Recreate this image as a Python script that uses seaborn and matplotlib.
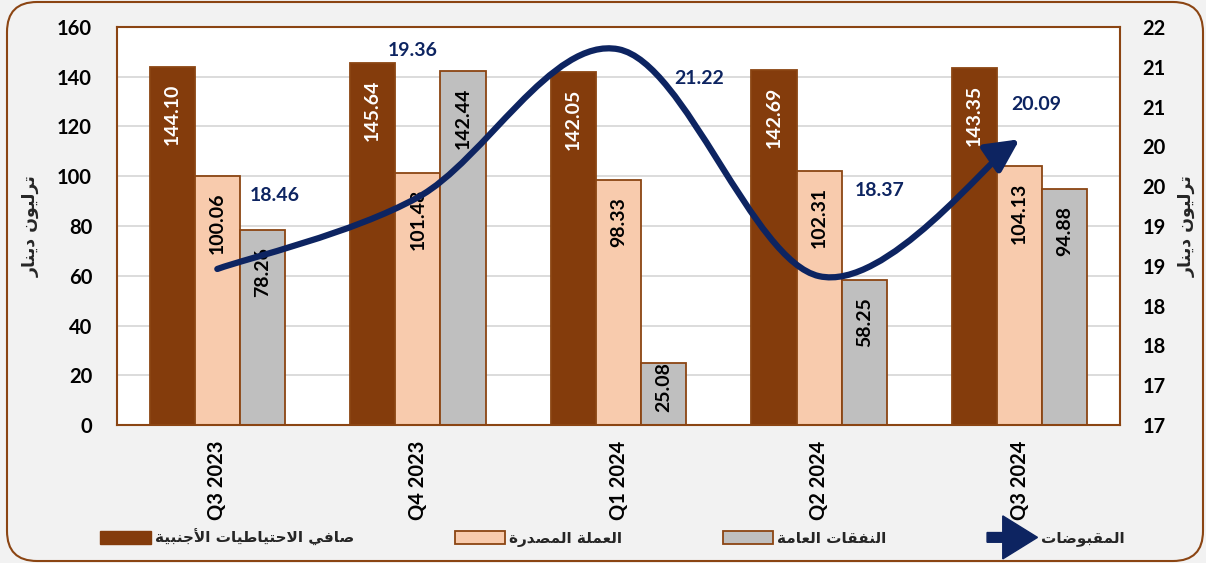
import numpy as np
import pandas as pd
import matplotlib
matplotlib.use("Agg")
import matplotlib.pyplot as plt
import seaborn as sns
from matplotlib.path import Path
from matplotlib.patches import FancyArrowPatch, Patch, FancyBboxPatch, FancyArrow, ArrowStyle
from matplotlib.legend_handler import HandlerPatch
from matplotlib.transforms import IdentityTransform

# ---------------- data ----------------
quarters = ["Q3 2023", "Q4 2023", "Q1 2024", "Q2 2024", "Q3 2024"]
reserves = [144.10, 145.64, 142.05, 142.69, 143.35]
currency = [100.06, 101.48, 98.33, 102.31, 104.13]
expenditure = [78.26, 142.44, 25.08, 58.25, 94.88]
receipts = [18.46, 19.36, 21.22, 18.37, 20.09]

name_reserves = "صافي الاحتياطيات الأجنبية"
name_currency = "العملة المصدرة"
name_expend = "النفقات العامة"
name_receipts = "المقبوضات"
axis_title = "ترليون دينار"

left_ticks = [0, 20, 40, 60, 80, 100, 120, 140, 160]
right_ticks = [16.5, 17.0, 17.5, 18.0, 18.5, 19.0, 19.5, 20.0, 20.5, 21.0, 21.5]
right_tick_labels = ["17", "17", "18", "18", "19", "19", "20", "20", "21", "21", "22"]

# ---------------- Arabic shaping (presentation forms, visual order) ----------------
FORMS = {
    '\u0627': ('\uFE8D', '\uFE8E', None, None),
    '\u0623': ('\uFE83', '\uFE84', None, None),
    '\u0628': ('\uFE8F', '\uFE90', '\uFE91', '\uFE92'),
    '\u0629': ('\uFE93', '\uFE94', None, None),
    '\u062A': ('\uFE95', '\uFE96', '\uFE97', '\uFE98'),
    '\u062C': ('\uFE9D', '\uFE9E', '\uFE9F', '\uFEA0'),
    '\u062D': ('\uFEA1', '\uFEA2', '\uFEA3', '\uFEA4'),
    '\u062F': ('\uFEA9', '\uFEAA', None, None),
    '\u0631': ('\uFEAD', '\uFEAE', None, None),
    '\u0635': ('\uFEB9', '\uFEBA', '\uFEBB', '\uFEBC'),
    '\u0636': ('\uFEBD', '\uFEBE', '\uFEBF', '\uFEC0'),
    '\u0637': ('\uFEC1', '\uFEC2', '\uFEC3', '\uFEC4'),
    '\u0639': ('\uFEC9', '\uFECA', '\uFECB', '\uFECC'),
    '\u0641': ('\uFED1', '\uFED2', '\uFED3', '\uFED4'),
    '\u0642': ('\uFED5', '\uFED6', '\uFED7', '\uFED8'),
    '\u0644': ('\uFEDD', '\uFEDE', '\uFEDF', '\uFEE0'),
    '\u0645': ('\uFEE1', '\uFEE2', '\uFEE3', '\uFEE4'),
    '\u0646': ('\uFEE5', '\uFEE6', '\uFEE7', '\uFEE8'),
    '\u0648': ('\uFEED', '\uFEEE', None, None),
    '\u064A': ('\uFEF1', '\uFEF2', '\uFEF3', '\uFEF4'),
    'LA': ('\uFEFB', '\uFEFC', None, None),
    'LAH': ('\uFEF7', '\uFEF8', None, None),
}


def ar(text):
    toks = []
    i = 0
    while i < len(text):
        ch = text[i]
        if ch == '\u0644' and i + 1 < len(text) and text[i + 1] in ('\u0627', '\u0623'):
            toks.append('LA' if text[i + 1] == '\u0627' else 'LAH')
            i += 2
            continue
        toks.append(ch)
        i += 1
    out = []
    n = len(toks)
    for k, t in enumerate(toks):
        if t not in FORMS:
            out.append(t)
            continue
        f = FORMS[t]
        prev = k > 0 and toks[k - 1] in FORMS and FORMS[toks[k - 1]][2] is not None
        nxt = k < n - 1 and toks[k + 1] in FORMS and f[2] is not None
        if prev and nxt:
            out.append(f[3])
        elif prev:
            out.append(f[1])
        elif nxt:
            out.append(f[2])
        else:
            out.append(f[0])
    return ''.join(out)[::-1]


# ---------------- style ----------------
sns.set_theme(style="white")
plt.rcParams['font.family'] = ['Lato', 'DejaVu Sans']
plt.rcParams['font.weight'] = 'bold'

BROWN = "#843C0C"
PEACH = "#F8CBAD"
GRAY = "#BFBFBF"
NAVY = "#0D2461"
EDGE = "#8B4513"
FS = 14
FS_TICK = 14.5
FS_AR = 11

fig = plt.figure(figsize=(12.06, 5.63), dpi=100, facecolor="#F2F2F2")
ax = fig.add_axes([117 / 1206, 1 - 425 / 563, (1120 - 117) / 1206, (425 - 27) / 563])
ax.set_facecolor("white")

df = pd.DataFrame({
    "quarter": quarters * 3,
    "value": reserves + currency + expenditure,
    "series": [name_reserves] * 5 + [name_currency] * 5 + [name_expend] * 5,
})
palette = {name_reserves: BROWN, name_currency: PEACH, name_expend: GRAY}
sns.barplot(data=df, x="quarter", y="value", hue="series", order=quarters,
            hue_order=[name_reserves, name_currency, name_expend], palette=palette,
            width=0.675, saturation=1, edgecolor=EDGE, linewidth=1.3,
            errorbar=None, legend=False, ax=ax, zorder=2)

ax.set_ylim(0, 160)
ax.set_xlim(-0.5, 4.5)
ax.set_yticks(left_ticks)
ax.set_yticklabels([str(v) for v in left_ticks], fontsize=FS_TICK, fontweight='bold')
ax.set_xticks(range(len(quarters)))
ax.set_xticklabels(quarters, rotation=90, fontsize=14.5, fontweight='bold')
ax.tick_params(axis='y', length=0, pad=18, colors='black')
ax.tick_params(axis='x', length=0, pad=11, colors='black')
ax.set_xlabel("")
ax.set_ylabel(ar(axis_title), rotation=90, fontsize=12.5, fontweight='bold',
              family=['DejaVu Sans'], va='center')
ax.yaxis.set_label_coords(-0.086, 0.5)
ax.grid(axis='y', color="#D9D9D9", linewidth=1.3)
ax.set_axisbelow(True)
for s in ax.spines.values():
    s.set_color(EDGE)
    s.set_linewidth(1.5)

# bar value labels
label_colors = ["white", "black", "black"]
for cont, vals, lc in zip(ax.containers, [reserves, currency, expenditure], label_colors):
    for bar, v in zip(cont, vals):
        xc = bar.get_x() + bar.get_width() / 2
        if v > 40:
            ax.annotate(f"{v:.2f}", xy=(xc, v), xytext=(0, -12), textcoords='offset points',
                        rotation=90, ha='center', va='top', color=lc, fontsize=FS,
                        fontweight='bold', zorder=5)
        else:
            ax.annotate(f"{v:.2f}", xy=(xc, 0), xytext=(0, 9), textcoords='offset points',
                        rotation=90, ha='center', va='bottom', color=lc, fontsize=FS,
                        fontweight='bold', zorder=5)

# secondary axis with smoothed receipts line
ax2 = ax.twinx()
ax2.set_ylim(16.5, 21.5)
ax2.set_yticks(right_ticks)
ax2.set_yticklabels(right_tick_labels, fontsize=FS_TICK, fontweight='bold')
ax2.tick_params(axis='y', length=0, pad=16, colors='black')
ax2.set_ylabel(ar(axis_title), rotation=90, fontsize=12.5, fontweight='bold',
               family=['DejaVu Sans'], va='center')
ax2.yaxis.set_label_coords(1.067, 0.5)
for s in ax2.spines.values():
    s.set_visible(False)

xs = np.arange(len(quarters), dtype=float)
pts = np.column_stack([xs, receipts])
verts = [tuple(pts[0])]
codes = [Path.MOVETO]
n = len(pts)
for i in range(n - 1):
    p_prev = pts[i - 1] if i > 0 else pts[i]
    p_next2 = pts[i + 2] if i + 2 < n else pts[i + 1]
    c1 = pts[i] + (pts[i + 1] - p_prev) / 6.0
    c2 = pts[i + 1] - (p_next2 - pts[i]) / 6.0
    verts += [tuple(c1), tuple(c2), tuple(pts[i + 1])]
    codes += [Path.CURVE4] * 3
arrow = FancyArrowPatch(path=Path(verts, codes),
                        arrowstyle=ArrowStyle("-|>", head_length=1.0, head_width=0.5),
                        mutation_scale=20, lw=4.5, color=NAVY, capstyle='round',
                        joinstyle='round', zorder=6)
ax2.add_patch(arrow)

label_offsets = [(57, 73), (-5, 147), (81, -29), (61, 86), (17, 35)]
for x, v, off in zip(xs, receipts, label_offsets):
    ax2.annotate(f"{v:.2f}", xy=(x, v), xytext=off, textcoords='offset pixels',
                 ha='center', va='center', color=NAVY, fontsize=FS, fontweight='bold')

# legend
arrow_handle = Patch(facecolor=NAVY, edgecolor=NAVY)


def make_arrow(legend, orig_handle, xdescent, ydescent, width, height, fontsize):
    return FancyArrow(-xdescent, height / 2 - ydescent, width, 0, width=7.0,
                      head_width=31.0, head_length=25.0, length_includes_head=True)


handles = [Patch(facecolor=BROWN, edgecolor=BROWN),
           Patch(facecolor=PEACH, edgecolor=EDGE, linewidth=1.3),
           Patch(facecolor=GRAY, edgecolor=EDGE, linewidth=1.3),
           arrow_handle]
labels = [ar(name_reserves), ar(name_currency), ar(name_expend), ar(name_receipts)]
leg = fig.legend(handles, labels, loc='center', bbox_to_anchor=(0.508, 0.045), ncol=4,
                 frameon=False, handlelength=3.3, handleheight=0.95,
                 handletextpad=0.25, columnspacing=6.6,
                 handler_map={arrow_handle: HandlerPatch(patch_func=make_arrow)},
                 prop={'family': ['DejaVu Sans'], 'weight': 'bold', 'size': FS_AR})

# rounded outer border
border = FancyBboxPatch((7, 2), 1196, 559, boxstyle="round,pad=0,rounding_size=30",
                        transform=IdentityTransform(), facecolor='none',
                        edgecolor=EDGE, linewidth=1.5)
fig.patches.append(border)

fig.savefig("out.png", dpi=100, facecolor=fig.get_facecolor())
